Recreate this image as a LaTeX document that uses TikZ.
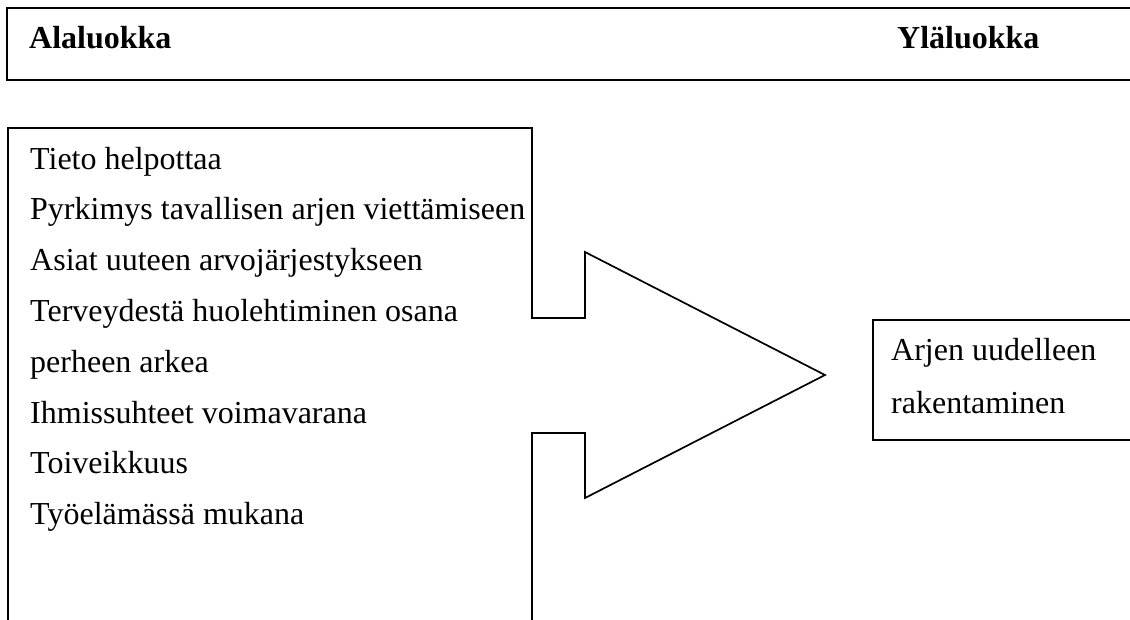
\documentclass[tikz,border=0pt]{standalone}
\usepackage{fontspec}
\setmainfont{Liberation Serif}
\begin{document}
\begin{tikzpicture}[x=1pt,y=-1pt,
  frame/.style={line width=1.7pt, line join=miter},
  headframe/.style={line width=2.2pt},
  item/.style={anchor=base west, inner sep=0pt, font=\fontsize{32}{38}\selectfont},
  head/.style={item, font=\fontsize{32}{38}\selectfont\bfseries}]
\clip (0,0) rectangle (1130,619);
\fill[white] (0,0) rectangle (1130,619);

% heading strip, open at the right
\draw[headframe] (1140,8) -- (7,8) -- (7,80) -- (1140,80);
\node[head] (sub) at (29,48) {Alaluokka};
\node[head] (sup) at (897,48) {Yläluokka};

% list box merged with the block arrow
\draw[frame] (8,630) -- (8,128) -- (532,128) -- (532,318) -- (585,318)
  -- (585,252) -- (825,375) -- (585,498) -- (585,433) -- (532,433) -- (532,630);

\node[item] (l1) at (30,169) {Tieto helpottaa};
\node[item] (l2) at (30,219.8) {Pyrkimys tavallisen arjen viettämiseen};
\node[item] (l3) at (30,270.6) {Asiat uuteen arvojärjestykseen};
\node[item] (l4) at (30,321.4) {Terveydestä huolehtiminen osana};
\node[item] (l5) at (30,372.2) {perheen arkea};
\node[item] (l6) at (30,423) {Ihmissuhteet voimavarana};
\node[item] (l7) at (30,473.8) {Toiveikkuus};
\node[item] (l8) at (30,524.6) {Työelämässä mukana};

% result box, open at the right
\draw[frame] (1140,320) -- (873,320) -- (873,440) -- (1140,440);
\node[item] (r1) at (891,360) {Arjen uudelleen};
\node[item] (r2) at (891,413) {rakentaminen};
\end{tikzpicture}
\end{document}
